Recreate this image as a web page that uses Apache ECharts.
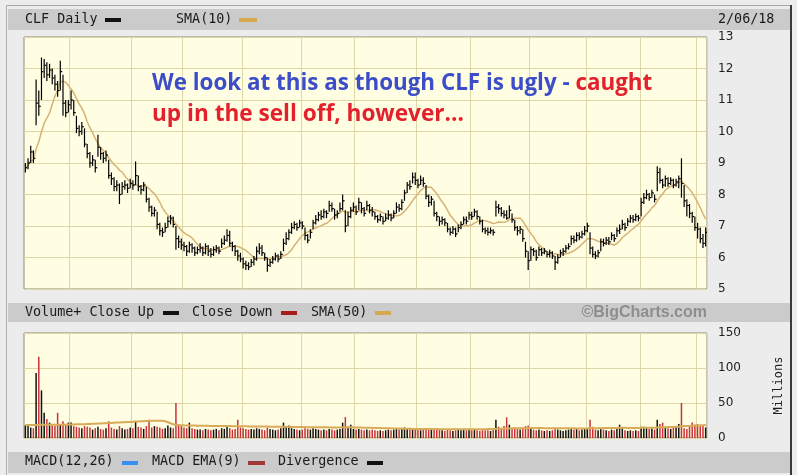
<!DOCTYPE html>
<html><head><meta charset="utf-8">
<script src="https://cdn.jsdelivr.net/npm/echarts@6/dist/echarts.min.js"></script>
<style>html,body{margin:0;padding:0;background:#ececec}#c{width:797px;height:475px}</style>
</head><body><div id="c"></div>
<script>
// ---- data (daily, 2/03/17 .. 2/06/18) ----
const closes = [
8.85,9.0,9.35,9.15,10.9,10.8,11.9,12.1,11.8,11.95,
11.7,11.5,11.3,11.9,10.9,10.6,10.85,11.0,10.6,10.1,
10.0,10.15,9.6,9.3,9.0,9.1,8.85,9.5,9.3,9.15,
9.25,8.6,8.5,8.25,8.3,8.0,8.25,8.3,8.2,8.35,
8.3,8.6,8.25,8.15,8.3,7.85,7.6,7.4,7.5,7.05,
6.85,6.8,6.95,7.15,7.25,7.05,6.6,6.5,6.4,6.35,
6.2,6.4,6.3,6.15,6.25,6.3,6.15,6.35,6.2,6.1,
6.25,6.3,6.2,6.45,6.55,6.7,6.45,6.35,6.2,6.05,
5.95,5.8,5.75,5.7,5.85,5.95,6.2,6.3,6.15,6.0,
5.75,5.85,5.95,6.05,5.95,6.1,6.45,6.6,6.8,6.95,
7.05,6.95,7.1,7.0,6.7,6.55,6.8,7.1,7.2,7.35,
7.3,7.45,7.4,7.65,7.55,7.35,7.4,7.55,7.8,7.0,
7.3,7.5,7.6,7.45,7.75,7.55,7.4,7.65,7.5,7.45,
7.3,7.2,7.3,7.15,7.25,7.35,7.25,7.4,7.6,7.55,
7.75,8.05,8.3,8.25,8.55,8.45,8.3,8.45,8.35,7.95,
7.75,7.85,7.4,7.3,7.15,7.2,7.1,6.9,6.8,6.9,
6.75,6.95,7.05,7.2,7.15,7.35,7.3,7.45,7.3,7.15,
6.9,6.85,6.8,6.85,6.8,7.6,7.55,7.4,7.35,7.25,
7.5,7.2,6.95,6.85,6.9,6.6,6.2,5.9,6.25,6.2,
6.0,6.25,6.15,6.2,6.1,6.15,6.05,5.85,6.0,6.15,
6.2,6.3,6.35,6.6,6.55,6.7,6.65,6.75,6.85,7.0,
6.3,6.1,6.05,6.15,6.5,6.45,6.55,6.5,6.7,6.6,
6.85,6.9,7.05,6.95,7.15,7.25,7.2,7.3,7.25,7.75,
7.9,8.0,7.9,8.05,7.85,8.7,8.45,8.3,8.5,8.35,
8.45,8.3,8.4,8.5,8.35,7.8,7.65,7.4,7.3,6.95,
6.9,6.6,6.45,6.8];

const highs = [
9.0,9.15,9.55,9.4,11.65,11.3,12.35,12.3,12.2,12.15,
12.0,11.8,11.6,12.25,11.8,11.0,11.0,11.3,11.0,10.5,
10.2,10.3,10.1,9.6,9.35,9.25,9.1,9.9,9.5,9.35,
9.4,9.1,8.7,8.55,8.45,8.35,8.4,8.45,8.35,8.5,
8.45,9.05,8.6,8.3,8.4,8.25,7.9,7.65,7.6,7.45,
7.1,6.95,7.1,7.3,7.35,7.3,7.0,6.7,6.6,6.5,
6.4,6.5,6.45,6.35,6.35,6.45,6.35,6.45,6.4,6.3,
6.35,6.4,6.35,6.6,6.7,6.9,6.85,6.5,6.4,6.25,
6.15,6.0,5.9,5.85,5.95,6.05,6.35,6.45,6.4,6.15,
6.0,5.95,6.05,6.15,6.1,6.2,6.6,6.8,6.9,7.1,
7.15,7.1,7.2,7.15,6.95,6.75,6.9,7.2,7.35,7.45,
7.5,7.55,7.5,7.8,7.75,7.55,7.5,7.75,8.0,7.5,
7.45,7.6,7.75,7.65,7.9,7.75,7.6,7.8,7.7,7.6,
7.45,7.35,7.4,7.3,7.4,7.5,7.4,7.5,7.75,7.7,
7.85,8.15,8.4,8.45,8.7,8.7,8.5,8.6,8.55,8.3,
8.0,7.95,7.8,7.45,7.3,7.3,7.25,7.1,6.95,7.0,
6.95,7.05,7.15,7.3,7.3,7.45,7.45,7.55,7.5,7.3,
7.2,6.95,6.95,6.95,6.9,7.8,7.7,7.6,7.5,7.5,
7.65,7.4,7.2,7.0,7.0,6.9,6.5,6.2,6.35,6.3,
6.25,6.35,6.3,6.3,6.2,6.25,6.2,6.05,6.1,6.25,
6.3,6.4,6.45,6.7,6.7,6.8,6.8,6.85,7.0,7.1,
6.8,6.35,6.2,6.25,6.6,6.6,6.65,6.65,6.8,6.75,
6.95,7.05,7.2,7.1,7.25,7.35,7.35,7.4,7.35,7.9,
8.05,8.15,8.05,8.15,8.0,8.9,8.85,8.5,8.6,8.55,
8.55,8.5,8.5,8.6,9.15,8.3,7.85,7.7,7.45,7.3,
7.1,6.95,6.75,6.95];

const lows = [
8.7,8.8,9.0,9.0,10.2,10.5,11.0,11.7,11.6,11.7,
11.5,11.3,11.1,11.3,10.5,10.45,10.6,10.7,10.5,9.95,
9.85,9.9,9.5,9.15,8.85,8.9,8.7,9.2,9.1,9.0,
9.05,8.5,8.3,8.1,8.1,7.7,8.0,8.15,8.05,8.2,
8.15,8.3,8.1,8.0,8.1,7.75,7.45,7.3,7.3,6.9,
6.7,6.65,6.8,6.95,7.05,6.95,6.25,6.3,6.25,6.2,
6.05,6.15,6.15,6.05,6.1,6.15,6.05,6.1,6.05,6.0,
6.05,6.15,6.1,6.3,6.4,6.5,6.35,6.2,6.05,5.9,
5.85,5.65,5.6,5.6,5.7,5.75,5.9,6.1,6.05,5.9,
5.55,5.7,5.8,5.9,5.85,5.95,6.2,6.4,6.55,6.75,
6.9,6.85,6.95,6.9,6.55,6.45,6.6,6.9,7.05,7.15,
7.2,7.25,7.25,7.45,7.45,7.2,7.25,7.45,7.5,6.8,
7.0,7.25,7.45,7.35,7.5,7.4,7.3,7.5,7.4,7.3,
7.2,7.1,7.15,7.05,7.15,7.2,7.15,7.25,7.4,7.45,
7.5,7.8,8.05,8.15,8.35,8.3,8.2,8.3,8.25,7.85,
7.6,7.65,7.3,7.15,7.0,7.05,7.0,6.8,6.7,6.75,
6.65,6.8,6.9,7.05,7.05,7.2,7.2,7.3,7.2,7.05,
6.8,6.75,6.7,6.75,6.7,7.3,7.4,7.3,7.25,7.2,
7.25,7.1,6.85,6.7,6.75,6.5,6.0,5.6,5.9,6.05,
5.9,6.05,6.05,6.1,6.0,6.0,5.95,5.6,5.8,6.0,
6.05,6.15,6.25,6.4,6.45,6.5,6.55,6.6,6.7,6.8,
6.1,6.0,5.95,6.0,6.2,6.35,6.4,6.4,6.55,6.5,
6.65,6.75,6.9,6.85,7.0,7.1,7.1,7.15,7.15,7.3,
7.7,7.85,7.8,7.9,7.75,8.1,8.35,8.2,8.25,8.25,
8.3,8.2,8.25,8.2,7.9,7.6,7.3,7.25,7.1,6.85,
6.6,6.45,6.3,6.35];

// volume, millions
const volumes = [
18,20,15,14,93,116,68,36,27,22,
18,17,36,20,24,18,22,22,17,16,
15,14,17,16,15,12,14,16,13,12,
14,24,15,13,12,17,14,12,13,15,
14,24,16,15,13,17,26,15,17,16,
15,13,14,18,15,14,50,20,17,15,
14,22,14,13,12,12,11,13,12,11,
12,13,11,14,13,17,14,12,13,26,
15,14,13,12,13,12,14,13,12,11,
15,13,12,11,12,14,22,16,18,14,
13,12,11,12,14,13,12,14,13,12,
11,12,11,13,12,11,12,13,22,30,
16,19,13,12,13,12,11,12,11,12,
11,10,11,10,11,12,11,12,13,12,
13,15,14,13,14,13,12,11,12,14,
13,12,14,12,12,11,10,12,11,10,
11,12,11,12,11,12,11,12,11,10,
12,11,11,10,12,26,16,14,17,29.5,
19,14,15,13,12,15,17,18,15,12,
11,12,11,10,11,10,11,14,12,11,
10,11,12,13,12,13,11,12,13,14,
26,16,12,11,13,12,11,10,12,11,
13,19,14,11,10,11,10,11,10,16,
16,15,13,14,12,26,20,22,16,14,
13,15,17,20,50,14,13,16,22,19,
20,17,18,15];

// volume SMA(50), millions
const volSma50 = [
18.5,18.5,18.6,18.6,18.7,18.7,18.8,18.8,18.8,18.9,
18.9,18.9,19.0,19.0,19.1,19.1,19.2,19.3,19.4,19.5,
19.6,19.7,19.8,19.9,20.0,20.2,20.4,20.6,20.8,21.0,
21.2,21.4,21.6,21.8,22.0,22.2,22.4,22.6,22.8,23.0,
23.2,23.4,23.6,23.8,24.0,24.2,24.4,24.5,24.6,24.6,
24.6,24.5,24.0,22.5,21.0,19.5,18.8,18.5,18.3,18.1,
18.0,17.9,17.8,17.7,17.6,17.5,17.5,17.4,17.4,17.3,
17.3,17.2,17.2,17.1,17.1,17.0,17.0,16.9,16.9,16.8,
16.8,16.7,16.7,16.6,16.6,16.5,16.5,16.4,16.4,16.3,
16.3,16.2,16.2,16.1,16.1,16.0,16.0,15.9,15.9,15.8,
15.8,15.7,15.7,15.6,15.6,15.5,15.5,15.4,15.4,15.3,
15.3,15.2,15.2,15.1,15.1,15.0,15.0,15.0,15.1,15.2,
15.3,15.3,15.2,15.1,15.0,14.9,14.8,14.7,14.6,14.5,
14.4,14.3,14.2,14.1,14.0,13.9,13.8,13.7,13.6,13.5,
13.4,13.3,13.2,13.1,13.0,13.0,12.9,12.9,12.8,12.8,
12.8,12.7,12.7,12.7,12.6,12.6,12.6,12.6,12.5,12.5,
12.5,12.5,12.5,12.5,12.5,12.5,12.5,12.5,12.6,12.6,
12.6,12.6,12.7,12.7,12.8,13.0,13.1,13.2,13.4,13.6,
13.7,13.8,13.9,14.0,14.0,14.1,14.1,14.2,14.2,14.2,
14.2,14.2,14.2,14.1,14.1,14.1,14.0,14.0,14.0,13.9,
13.9,13.9,13.8,13.8,13.8,13.7,13.7,13.7,13.7,13.7,
14.0,14.1,14.1,14.1,14.1,14.2,14.2,14.2,14.3,14.3,
14.3,14.5,14.5,14.5,14.4,14.4,14.4,14.4,14.4,14.5,
14.6,14.7,14.7,14.8,14.8,15.1,15.2,15.4,15.5,15.6,
15.7,15.8,16.0,16.2,16.9,17.0,17.1,17.3,17.6,17.8,
18.0,18.1,18.3,18.4];

const priceTicks = [5, 6, 7, 8, 9, 10, 11, 12, 13];
const volumeTicks = [0, 50, 100, 150];
const startDate = '2017-02-03';
const holidays = ['2017-02-20','2017-04-14','2017-05-29','2017-07-04','2017-09-04',
                  '2017-11-23','2017-12-25','2018-01-01','2018-01-15'];
const lastDateLabel = '2/06/18';

// ---- trading-day categories ----
const dates = [];
{
  let t = Date.parse(startDate + 'T00:00:00Z');
  while (dates.length < closes.length) {
    const d = new Date(t);
    const wd = d.getUTCDay();
    const s = d.toISOString().slice(0, 10);
    if (wd !== 0 && wd !== 6 && holidays.indexOf(s) < 0) dates.push(s);
    t += 86400000;
  }
}
const monthStart = (idx) => idx > 0 && dates[idx].slice(0, 7) !== dates[idx - 1].slice(0, 7);

const sma10 = closes.map((c, i) => {
  const w = closes.slice(Math.max(0, i - 9), i + 1);
  return +(w.reduce((a, b) => a + b, 0) / w.length).toFixed(3);
});

const ohlc = closes.map((c, i) => [i, highs[i], lows[i], c]);
const volData = volumes.map((v, i) => ({
  value: v,
  itemStyle: { color: (i === 0 || closes[i] >= closes[i - 1]) ? '#111111' : '#c8323a' }
}));

const MONO = '"DejaVu Sans Mono", monospace';
const SANS = '"DejaVu Sans", sans-serif';
const GRIDC = '#ddd6a6';
const PLOTBG = '#fffde2';

function xAxisFor(g) {
  return {
    type: 'category', gridIndex: g, data: dates, boundaryGap: true,
    axisLine: { show: false }, axisTick: { show: false, interval: monthStart },
    axisLabel: { show: false, interval: monthStart },
    splitLine: { show: true, interval: monthStart, lineStyle: { color: GRIDC, width: 1 } }
  };
}

function hdrText(x, y, s) {
  return { type: 'text', x: x, y: y, style: { text: s, fill: '#1a1a1a', font: '13.4px ' + MONO, textVerticalAlign: 'middle', verticalAlign: 'middle' } };
}
function sw(x, y, w, h, c) {
  return { type: 'rect', shape: { x: x, y: y, width: w, height: h }, style: { fill: c } };
}

const chart = echarts.init(document.getElementById('c'));
chart.setOption({
  backgroundColor: '#ececec',
  animation: false,
  grid: [
    { left: 24, top: 37, width: 683, height: 252, show: true, backgroundColor: PLOTBG, borderColor: '#8c8c7c', borderWidth: 1 },
    { left: 24, top: 333, width: 683, height: 105, show: true, backgroundColor: PLOTBG, borderColor: '#8c8c7c', borderWidth: 1 }
  ],
  xAxis: [xAxisFor(0), xAxisFor(1)],
  yAxis: [
    {
      type: 'value', gridIndex: 0, position: 'right',
      min: priceTicks[0], max: priceTicks[priceTicks.length - 1], interval: 1,
      axisLine: { show: false }, axisTick: { show: false },
      axisLabel: { color: '#222', fontSize: 12, fontFamily: SANS, margin: 11 },
      splitLine: { lineStyle: { color: GRIDC, width: 1 } }
    },
    {
      type: 'value', gridIndex: 1, position: 'right',
      min: volumeTicks[0], max: volumeTicks[volumeTicks.length - 1], interval: 50,
      axisLine: { show: false }, axisTick: { show: false },
      axisLabel: { color: '#222', fontSize: 12, fontFamily: SANS, margin: 11 },
      splitLine: { lineStyle: { color: GRIDC, width: 1 } },
      name: 'Millions', nameLocation: 'middle', nameRotate: 90, nameGap: 66,
      nameTextStyle: { color: '#222', fontSize: 12, fontFamily: MONO }
    }
  ],
  series: [
    {
      type: 'line', xAxisIndex: 0, yAxisIndex: 0, data: sma10, showSymbol: false, symbol: 'none',
      lineStyle: { color: '#d6b274', width: 1.5 }, z: 2, silent: true
    },
    {
      type: 'custom', xAxisIndex: 0, yAxisIndex: 0, data: ohlc, z: 3, clip: true,
      encode: { x: 0, y: [1, 2, 3] },
      renderItem: function (params, api) {
        const i = api.value(0);
        const hi = api.coord([i, api.value(1)]);
        const lo = api.coord([i, api.value(2)]);
        const cl = api.coord([i, api.value(3)]);
        const cx = hi[0];
        return {
          type: 'group', children: [
            { type: 'line', shape: { x1: cx, y1: hi[1], x2: cx, y2: lo[1] }, style: { stroke: '#000', lineWidth: 1.2 } },
            { type: 'line', shape: { x1: cx, y1: cl[1], x2: cx + 2, y2: cl[1] }, style: { stroke: '#000', lineWidth: 1.2 } }
          ]
        };
      }
    },
    {
      type: 'bar', xAxisIndex: 1, yAxisIndex: 1, data: volData, barWidth: 1.5, z: 2, silent: true
    },
    {
      type: 'line', xAxisIndex: 1, yAxisIndex: 1, data: volSma50, showSymbol: false, symbol: 'none',
      lineStyle: { color: '#d9aa58', width: 2 }, z: 3, silent: true
    }
  ],
  graphic: [
    sw(6, 5, 786, 1, '#a8a8a8'),
    sw(6, 5, 1, 470, '#b0b0b0'),
    sw(790, 5, 2, 470, '#3a3a3a'),
    sw(8, 9, 782, 21, '#cbcbcb'),
    sw(8, 303, 782, 19, '#cbcbcb'),
    sw(8, 452, 782, 21, '#cbcbcb'),
    hdrText(25, 20, 'CLF Daily'), sw(105, 18, 16, 4, '#111'),
    hdrText(176, 20, 'SMA(10)'), sw(239, 18, 18, 4, '#d8a84e'),
    hdrText(718, 20, lastDateLabel),
    hdrText(25, 313, 'Volume+ Close Up'), sw(163, 311, 16, 4, '#111'),
    hdrText(192, 313, 'Close Down'), sw(281, 311, 16, 4, '#a81c1c'),
    hdrText(311, 313, 'SMA(50)'), sw(375, 311, 16, 4, '#d8a84e'),
    { type: 'text', x: 707, y: 313, style: { text: '\u00a9BigCharts.com', fill: '#8e8e8e', font: 'bold 16px "Liberation Sans", Arial, sans-serif', textAlign: 'right', align: 'right', textVerticalAlign: 'middle', verticalAlign: 'middle' } },
    hdrText(25, 462, 'MACD(12,26)'), sw(122, 461, 16, 4, '#3a8ef0'),
    hdrText(152, 462, 'MACD EMA(9)'), sw(248, 461, 17, 4, '#a03a3a'),
    hdrText(278, 462, 'Divergence'), sw(367, 461, 16, 4, '#111'),
    {
      type: 'text', x: 152, y: 84, z: 10,
      style: {
        text: '{b|We look at this as though CLF is ugly - }{r|caught}',
        verticalAlign: 'middle', textVerticalAlign: 'middle',
        rich: {
          b: { fill: '#3b4dc8', fontSize: 22.4, fontWeight: 'bold', fontFamily: '"Open Sans", sans-serif' },
          r: { fill: '#e3202c', fontSize: 22.4, fontWeight: 'bold', fontFamily: '"Open Sans", sans-serif' }
        }
      }
    },
    {
      type: 'text', x: 152, y: 115, z: 10,
      style: {
        text: 'up in the sell off, however...', fill: '#e3202c',
        font: 'bold 22.6px "Open Sans", sans-serif',
        verticalAlign: 'middle', textVerticalAlign: 'middle'
      }
    }
  ]
});
</script>
</body></html>
